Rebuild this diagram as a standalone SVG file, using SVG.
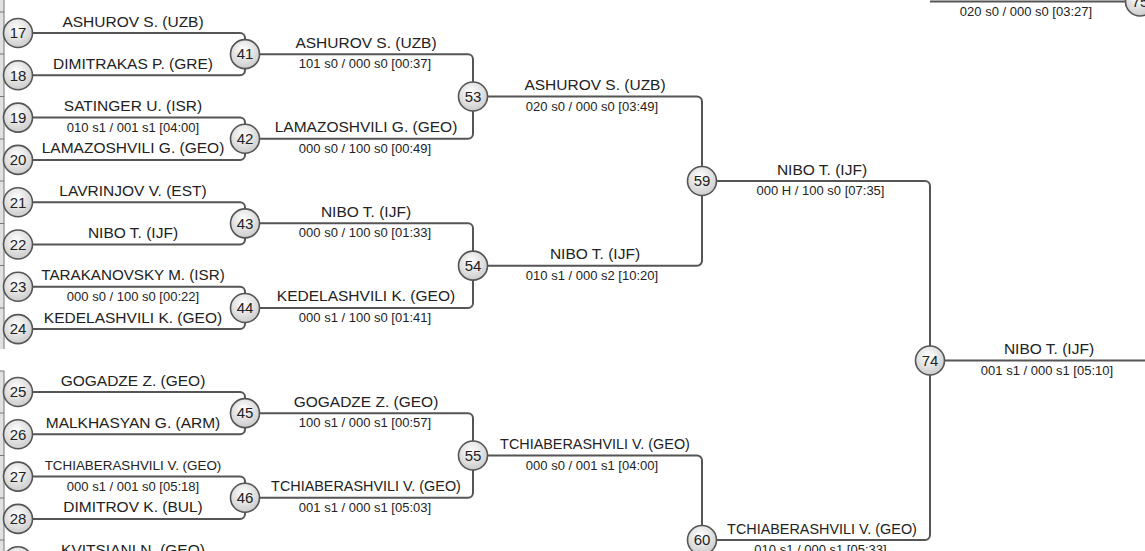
<svg xmlns="http://www.w3.org/2000/svg" width="1145" height="551" viewBox="0 0 1145 551">
<defs>
<radialGradient id="g" cx="45%" cy="35%" r="65%">
<stop offset="0" stop-color="#ffffff"/>
<stop offset="1" stop-color="#cccccc"/>
</radialGradient>
</defs>
<style>
.ln{fill:none;stroke:#555;stroke-width:2}
.nd circle{fill:url(#g);stroke:#555;stroke-width:1.6}
.num{font-family:"Liberation Sans",Arial,sans-serif;font-size:15px;fill:#222;text-anchor:middle}
.nm{font-family:"Liberation Sans",Arial,sans-serif;font-size:15.5px;fill:#222;text-anchor:middle}
.sc{font-family:"Liberation Sans",Arial,sans-serif;font-size:13px;fill:#222;text-anchor:middle}
.tk{stroke:#777;stroke-width:1}
</style>
<rect width="1145" height="551" fill="#ffffff"/>
<g id="edge">
<rect x="0" y="0" width="4" height="349" fill="#e2e2e2"/>
<rect x="0" y="371" width="4" height="180" fill="#e2e2e2"/>
<line class="tk" x1="4" y1="0" x2="4" y2="349"/>
<line class="tk" x1="4" y1="371" x2="4" y2="551"/>
<g class="tk">
<line x1="0" y1="12" x2="4" y2="12"/><line x1="0" y1="54" x2="4" y2="54"/><line x1="0" y1="96.5" x2="4" y2="96.5"/><line x1="0" y1="139" x2="4" y2="139"/><line x1="0" y1="181" x2="4" y2="181"/><line x1="0" y1="223.5" x2="4" y2="223.5"/><line x1="0" y1="265.5" x2="4" y2="265.5"/><line x1="0" y1="308" x2="4" y2="308"/><line x1="0" y1="371" x2="4" y2="371"/><line x1="0" y1="413" x2="4" y2="413"/><line x1="0" y1="455.5" x2="4" y2="455.5"/><line x1="0" y1="498" x2="4" y2="498"/><line x1="0" y1="540" x2="4" y2="540"/>
</g>
</g>
<g id="connectors" class="ln">
<path d="M18 33 H240 A5 5 0 0 1 245 38 V54.15"/>
<path d="M18 75.3 H240 A5 5 0 0 0 245 70.3 V54.15"/>
<path d="M18 117.6 H240 A5 5 0 0 1 245 122.6 V138.75"/>
<path d="M18 159.9 H240 A5 5 0 0 0 245 154.9 V138.75"/>
<path d="M18 202.2 H240 A5 5 0 0 1 245 207.2 V223.35"/>
<path d="M18 244.5 H240 A5 5 0 0 0 245 239.5 V223.35"/>
<path d="M18 286.8 H240 A5 5 0 0 1 245 291.8 V307.95"/>
<path d="M18 329.1 H240 A5 5 0 0 0 245 324.1 V307.95"/>
<path d="M18 392 H240 A5 5 0 0 1 245 397 V413.15"/>
<path d="M18 434.3 H240 A5 5 0 0 0 245 429.3 V413.15"/>
<path d="M18 476.6 H240 A5 5 0 0 1 245 481.6 V497.75"/>
<path d="M18 518.9 H240 A5 5 0 0 0 245 513.9 V497.75"/>
<path d="M18 561.2 H240 A5 5 0 0 1 245 566.2 V582"/>
<path d="M245 54.15 H468 A5 5 0 0 1 473 59.15 V96.45"/>
<path d="M245 138.75 H468 A5 5 0 0 0 473 133.75 V96.45"/>
<path d="M245 223.35 H468 A5 5 0 0 1 473 228.35 V265.65"/>
<path d="M245 307.95 H468 A5 5 0 0 0 473 302.95 V265.65"/>
<path d="M245 413.15 H468 A5 5 0 0 1 473 418.15 V455.45"/>
<path d="M245 497.75 H468 A5 5 0 0 0 473 492.75 V455.45"/>
<path d="M473 96.45 H697 A5 5 0 0 1 702 101.45 V181.05"/>
<path d="M473 265.65 H697 A5 5 0 0 0 702 260.65 V181.05"/>
<path d="M473 455.45 H697 A5 5 0 0 1 702 460.45 V540.05"/>
<path d="M702 181.05 H925 A5 5 0 0 1 930 186.05 V360.55"/>
<path d="M702 540.05 H925 A5 5 0 0 0 930 535.05 V360.55"/>
<path d="M930 360.55 H1150"/>
<path d="M930 1.5 H1140"/>
</g>
<g id="labels">
<text class="nm" x="133" y="26.5">ASHUROV S. (UZB)</text>
<text class="nm" x="133" y="68.8">DIMITRAKAS P. (GRE)</text>
<text class="nm" x="133" y="111.1">SATINGER U. (ISR)</text>
<text class="sc" x="133" y="131.6">010 s1 / 001 s1 [04:00]</text>
<text class="nm" x="133" y="153.4">LAMAZOSHVILI G. (GEO)</text>
<text class="nm" x="133" y="195.7">LAVRINJOV V. (EST)</text>
<text class="nm" x="133" y="238">NIBO T. (IJF)</text>
<text class="nm" x="133" y="280.3" style="font-size:15.2px">TARAKANOVSKY M. (ISR)</text>
<text class="sc" x="133" y="300.8">000 s0 / 100 s0 [00:22]</text>
<text class="nm" x="133" y="322.6">KEDELASHVILI K. (GEO)</text>
<text class="nm" x="133" y="385.5">GOGADZE Z. (GEO)</text>
<text class="nm" x="133" y="427.8">MALKHASYAN G. (ARM)</text>
<text class="nm" x="133" y="470.1" style="font-size:13.4px">TCHIABERASHVILI V. (GEO)</text>
<text class="sc" x="133" y="490.6">000 s1 / 001 s0 [05:18]</text>
<text class="nm" x="133" y="512.4">DIMITROV K. (BUL)</text>
<text class="nm" x="133" y="554.7">KVITSIANI N. (GEO)</text>
<text class="nm" x="366" y="47.6">ASHUROV S. (UZB)</text>
<text class="sc" x="365" y="68.2">101 s0 / 000 s0 [00:37]</text>
<text class="nm" x="366" y="132.2">LAMAZOSHVILI G. (GEO)</text>
<text class="sc" x="365" y="152.8">000 s0 / 100 s0 [00:49]</text>
<text class="nm" x="366" y="216.8">NIBO T. (IJF)</text>
<text class="sc" x="365" y="237.4">000 s0 / 100 s0 [01:33]</text>
<text class="nm" x="366" y="301.4">KEDELASHVILI K. (GEO)</text>
<text class="sc" x="365" y="322">000 s1 / 100 s0 [01:41]</text>
<text class="nm" x="366" y="406.6">GOGADZE Z. (GEO)</text>
<text class="sc" x="365" y="427.2">100 s1 / 000 s1 [00:57]</text>
<text class="nm" x="366" y="491.2" style="font-size:14.4px">TCHIABERASHVILI V. (GEO)</text>
<text class="sc" x="365" y="511.8">001 s1 / 000 s1 [05:03]</text>
<text class="nm" x="595" y="89.9">ASHUROV S. (UZB)</text>
<text class="sc" x="592" y="110.5">020 s0 / 000 s0 [03:49]</text>
<text class="nm" x="595" y="259.1">NIBO T. (IJF)</text>
<text class="sc" x="592" y="279.7">010 s1 / 000 s2 [10:20]</text>
<text class="nm" x="595" y="448.9" style="font-size:14.4px">TCHIABERASHVILI V. (GEO)</text>
<text class="sc" x="592" y="469.5">000 s0 / 001 s1 [04:00]</text>
<text class="nm" x="822" y="174.5">NIBO T. (IJF)</text>
<text class="sc" x="820.5" y="195.1">000 H / 100 s0 [07:35]</text>
<text class="nm" x="822" y="533.5" style="font-size:14.4px">TCHIABERASHVILI V. (GEO)</text>
<text class="sc" x="820.5" y="554.1">010 s1 / 000 s1 [05:33]</text>
<text class="nm" x="1049" y="354">NIBO T. (IJF)</text>
<text class="sc" x="1047" y="374.6">001 s1 / 000 s1 [05:10]</text>
<text class="sc" x="1026" y="15.8">020 s0 / 000 s0 [03:27]</text>
</g>
<g id="n17" class="nd"><circle cx="18" cy="33" r="14.5"/><text class="num" x="18" y="38.3">17</text></g>
<g id="n18" class="nd"><circle cx="18" cy="75.3" r="14.5"/><text class="num" x="18" y="80.6">18</text></g>
<g id="n19" class="nd"><circle cx="18" cy="117.6" r="14.5"/><text class="num" x="18" y="122.9">19</text></g>
<g id="n20" class="nd"><circle cx="18" cy="159.9" r="14.5"/><text class="num" x="18" y="165.2">20</text></g>
<g id="n21" class="nd"><circle cx="18" cy="202.2" r="14.5"/><text class="num" x="18" y="207.5">21</text></g>
<g id="n22" class="nd"><circle cx="18" cy="244.5" r="14.5"/><text class="num" x="18" y="249.8">22</text></g>
<g id="n23" class="nd"><circle cx="18" cy="286.8" r="14.5"/><text class="num" x="18" y="292.1">23</text></g>
<g id="n24" class="nd"><circle cx="18" cy="329.1" r="14.5"/><text class="num" x="18" y="334.4">24</text></g>
<g id="n25" class="nd"><circle cx="18" cy="392" r="14.5"/><text class="num" x="18" y="397.3">25</text></g>
<g id="n26" class="nd"><circle cx="18" cy="434.3" r="14.5"/><text class="num" x="18" y="439.6">26</text></g>
<g id="n27" class="nd"><circle cx="18" cy="476.6" r="14.5"/><text class="num" x="18" y="481.9">27</text></g>
<g id="n28" class="nd"><circle cx="18" cy="518.9" r="14.5"/><text class="num" x="18" y="524.2">28</text></g>
<g id="n29" class="nd"><circle cx="18" cy="561.2" r="14.5"/><text class="num" x="18" y="566.5">29</text></g>
<g id="n41" class="nd"><circle cx="245" cy="54.15" r="14.5"/><text class="num" x="245" y="59.45">41</text></g>
<g id="n42" class="nd"><circle cx="245" cy="138.75" r="14.5"/><text class="num" x="245" y="144.05">42</text></g>
<g id="n43" class="nd"><circle cx="245" cy="223.35" r="14.5"/><text class="num" x="245" y="228.65">43</text></g>
<g id="n44" class="nd"><circle cx="245" cy="307.95" r="14.5"/><text class="num" x="245" y="313.25">44</text></g>
<g id="n45" class="nd"><circle cx="245" cy="413.15" r="14.5"/><text class="num" x="245" y="418.45">45</text></g>
<g id="n46" class="nd"><circle cx="245" cy="497.75" r="14.5"/><text class="num" x="245" y="503.05">46</text></g>
<g id="n53" class="nd"><circle cx="473" cy="96.45" r="14.5"/><text class="num" x="473" y="101.75">53</text></g>
<g id="n54" class="nd"><circle cx="473" cy="265.65" r="14.5"/><text class="num" x="473" y="270.95">54</text></g>
<g id="n55" class="nd"><circle cx="473" cy="455.45" r="14.5"/><text class="num" x="473" y="460.75">55</text></g>
<g id="n59" class="nd"><circle cx="702" cy="181.05" r="14.5"/><text class="num" x="702" y="186.35">59</text></g>
<g id="n60" class="nd"><circle cx="702" cy="540.05" r="14.5"/><text class="num" x="702" y="545.35">60</text></g>
<g id="n74" class="nd"><circle cx="930" cy="360.55" r="14.5"/><text class="num" x="930" y="365.85">74</text></g>
<g id="n75" class="nd"><circle cx="1140" cy="1.5" r="14.5"/><text class="num" x="1140" y="6.8">75</text></g>
</svg>
